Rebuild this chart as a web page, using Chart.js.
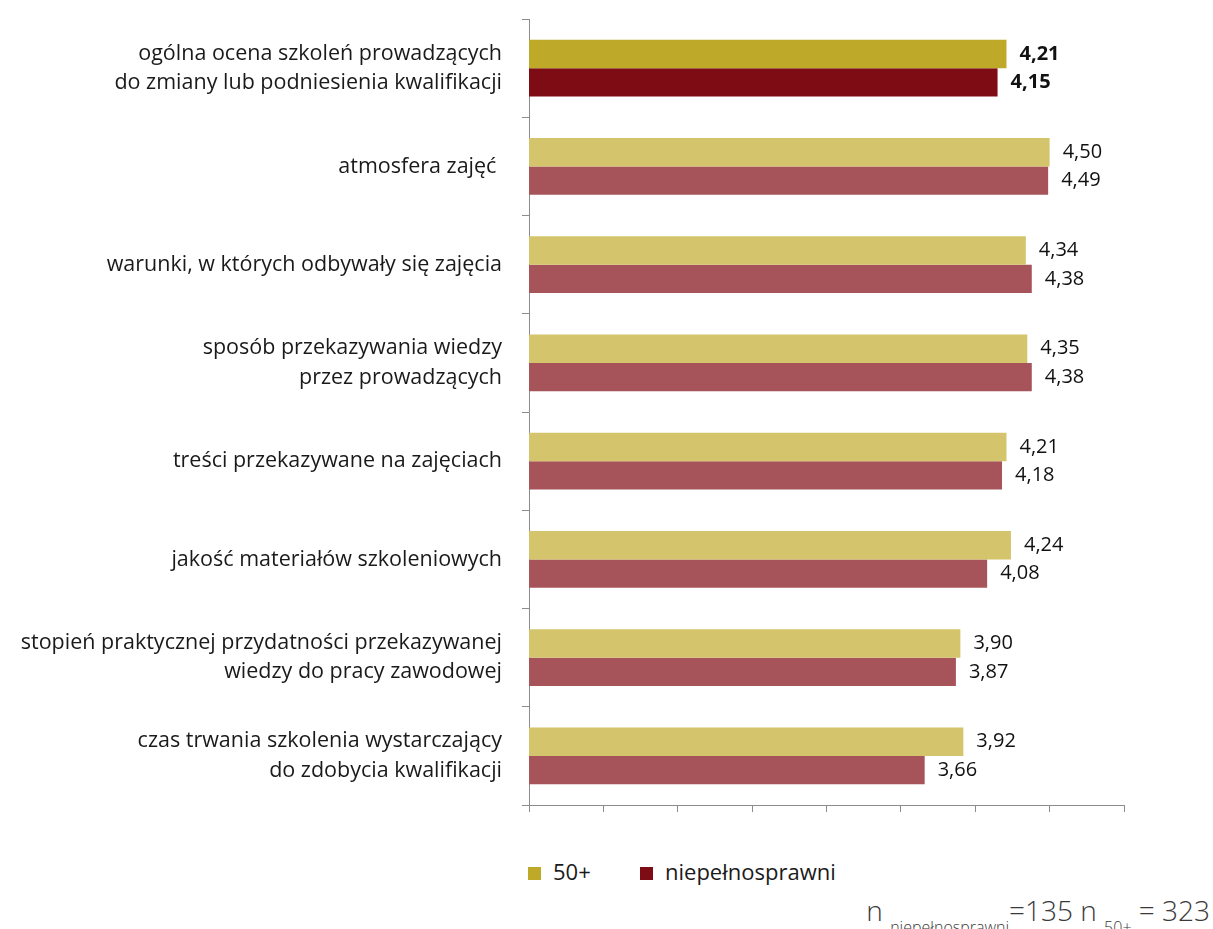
<!DOCTYPE html>
<html>
<head>
<meta charset="utf-8">
<script src="https://cdn.jsdelivr.net/npm/chart.js@4/dist/chart.umd.min.js"></script>
<style>
  body { margin: 0; background: #fff; font-family: "Open Sans", sans-serif; color: #1a1a1a; }
  #wrap { position: relative; width: 1213px; height: 929px; }
  #box { position: absolute; left: 0; top: 0; width: 1213px; height: 830px; }
  .legend { position: absolute; top: 856px; font-size: 22px; }
  .legend span.sw { display: inline-block; width: 13px; height: 13px; margin-right: 12px; vertical-align: 0px; }
  .note { position: absolute; right: 3px; top: 891px; font-size: 28px; font-weight: 300; color: #3a3a3a; white-space: nowrap; }
  .note sub { font-size: 16px; vertical-align: -12px; }
</style>
</head>
<body>
<div id="wrap">
  <div id="box"><canvas id="chart"></canvas></div>
  <div class="legend" style="left:528px"><span class="sw" style="background:#BFA928"></span>50+</div>
  <div class="legend" style="left:640px"><span class="sw" style="background:#7E0C15"></span>niepełnosprawni</div>
  <div class="note">n <sub>niepełnosprawni</sub>=135 n <sub>50+</sub> = 323</div>
</div>
<script>
// categories, top to bottom
const categories = [
    ['ogólna ocena szkoleń prowadzących', 'do zmiany lub podniesienia kwalifikacji'],
    'atmosfera zajęć ',
    'warunki, w których odbywały się zajęcia',
    ['sposób przekazywania wiedzy', 'przez prowadzących'],
    'treści przekazywane na zajęciach',
    'jakość materiałów szkoleniowych',
    ['stopień praktycznej przydatności przekazywanej', 'wiedzy do pracy zawodowej'],
    ['czas trwania szkolenia wystarczający', 'do zdobycia kwalifikacji']
];
const values50 = [4.21, 4.50, 4.34, 4.35, 4.21, 4.24, 3.90, 3.92];
const valuesNiep = [4.15, 4.49, 4.38, 4.38, 4.18, 4.08, 3.87, 3.66];

// first row (overall rating) is drawn darker
function rowColors(first, rest) {
    return categories.map((c, i) => i === 0 ? first : rest);
}

// value labels next to the bars
const valueLabels = {
    id: 'valueLabels',
    afterDatasetsDraw(chart) {
        const ctx = chart.ctx;
        ctx.save();
        ctx.fillStyle = '#111';
        ctx.textAlign = 'left';
        ctx.textBaseline = 'middle';
        chart.data.datasets.forEach((ds, di) => {
            chart.getDatasetMeta(di).data.forEach((bar, i) => {
                ctx.font = (i === 0 ? 'bold ' : '') + '20px "Open Sans"';
                ctx.fillText(ds.data[i].toFixed(2).replace('.', ','), bar.x + 13, bar.y);
            });
        });
        ctx.restore();
    }
};

const ctx = document.getElementById('chart').getContext('2d');
new Chart(ctx, {
    type: 'bar',
    data: {
        labels: categories,
        datasets: [{
            label: '50+',
            data: values50,
            backgroundColor: rowColors('#BFA928', '#D4C46B'),
            categoryPercentage: 0.58,
            barPercentage: 1
        }, {
            label: 'niepełnosprawni',
            data: valuesNiep,
            backgroundColor: rowColors('#7E0C15', '#A6545A'),
            categoryPercentage: 0.58,
            barPercentage: 1
        }]
    },
    options: {
        indexAxis: 'y',
        responsive: true,
        maintainAspectRatio: false,
        animation: false,
        layout: { padding: { top: 19, right: 89, left: 0, bottom: 0 } },
        plugins: {
            legend: { display: false },
            tooltip: { enabled: false }
        },
        scales: {
            x: {
                min: 1,
                max: 5,
                ticks: { display: false, stepSize: 0.5 },
                grid: { drawOnChartArea: false, color: '#8c8c8c', tickLength: 7 },
                border: { color: '#8c8c8c' },
                afterFit: function(scale) { scale.height = 25; }
            },
            y: {
                ticks: {
                    color: '#1a1a1a',
                    padding: 20,
                    font: { family: 'Open Sans', size: 21.5, lineHeight: 1.35 }
                },
                grid: { drawOnChartArea: false, color: '#8c8c8c', tickLength: 7 },
                border: { color: '#8c8c8c' },
                afterFit: function(scale) {
                    scale.width = 529;
                    scale.paddingTop = 0;
                    scale.paddingBottom = 0;
                }
            }
        }
    },
    plugins: [valueLabels]
});
</script>
</body>
</html>
